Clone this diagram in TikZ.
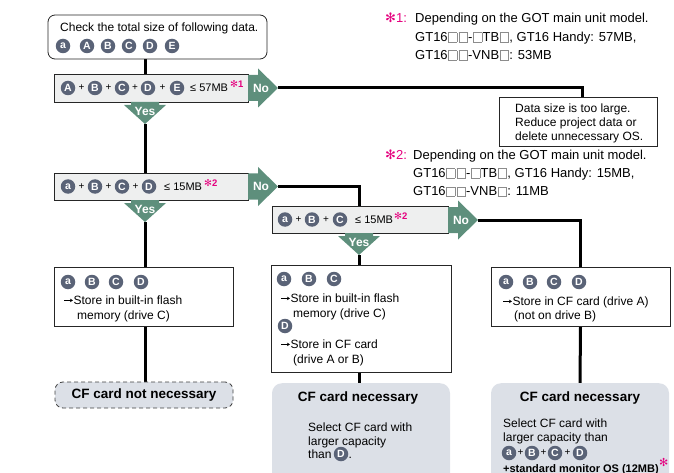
\documentclass[tikz,border=0pt]{standalone}
\usepackage{fontspec}
\usetikzlibrary{arrows.meta}
\setmainfont{Liberation Sans}
\newfontfamily\djv{DejaVu Sans}
\definecolor{grn}{HTML}{5E8F7C}
\definecolor{circc}{HTML}{5A6377}
\definecolor{decfill}{HTML}{EEEFEF}
\definecolor{gfill}{HTML}{DCE0E7}
\definecolor{pinkc}{HTML}{E5007E}
\newcommand\fsz[1]{\fontsize{#1}{#1}\selectfont}
\newcommand\sq{\hspace{0.6pt}{\color{black!45}\setlength\fboxrule{0.5pt}\setlength\fboxsep{0pt}\fbox{\rule{0pt}{9pt}\hspace{8pt}}}\hspace{0.6pt}}
\newcommand\arr{\tikz[baseline=0pt]\draw[line width=0.5pt,-{Stealth[length=3pt,width=3.6pt]}] (0pt,3.6pt) -- (8.5pt,3.6pt);\hspace{0.3pt}}
\newcommand\pstar{{\djv ✻}}
\pgfdeclarelayer{bg}
\pgfsetlayers{bg,main}
\tikzset{
 box/.style={draw=black!85,line width=0.8pt,fill=white,inner sep=0pt},
 dec/.style={draw=black!85,line width=0.9pt,fill=decfill,inner sep=0pt},
 wire/.style={line width=3pt},
 cb/.style={circle,fill=circc,text=white,inner sep=0pt,minimum size=14.5pt,font=\bfseries\fsz{10.5}},
 tx/.style={anchor=base west,inner sep=0pt,font=\fsz{12}},
 nt/.style={anchor=base west,inner sep=0pt,font=\fsz{13}},
 pl/.style={inner sep=0pt,font=\fsz{10}},
 le/.style={anchor=base west,inner sep=0pt,font=\fsz{11}},
 supm/.style={anchor=base west,inner sep=0pt,text=pinkc,font=\bfseries\fsz{9.5}},
 yn/.style={inner sep=0pt,text=white,font=\bfseries\fsz{12}},
 ttl/.style={inner sep=0pt,font=\bfseries\fsz{13.5}},
}
\newcommand\noarr[3]{%
 \fill[grn] (#1,#2-13) -- (#1+10,#2-13) -- (#1+10,#2-19.5) -- (#1+30,#2) -- (#1+10,#2+19.5) -- (#1+10,#2+13) -- (#1,#2+13) -- cycle;
 \node[yn] (#3) at (#1+13,#2) {No};
 \coordinate (#3t) at (#1+30,#2);}
\newcommand\yesarr[3]{%
 \fill[grn] (#1-14,#2) -- (#1+14,#2) -- (#1+14,#2+3) -- (#1+21,#2+3) -- (#1,#2+22) -- (#1-21,#2+3) -- (#1-14,#2+3) -- cycle;
 \node[yn] (#3) at (#1,#2+9.5) {Yes};
 \coordinate (#3t) at (#1,#2+22);}
\begin{document}
\begin{tikzpicture}[x=1pt,y=-1pt]
\useasboundingbox (0,0) rectangle (674,473);

% ---------- boxes
\node[box,rounded corners=7pt,minimum width=219pt,minimum height=44pt] (start) at (157.5,37) {};
\node[dec,minimum width=194pt,minimum height=28pt] (dec1) at (151,88) {};
\node[box,minimum width=158pt,minimum height=49pt] (nbox) at (578,121.5) {};
\node[dec,minimum width=194pt,minimum height=27pt] (dec2) at (151,186.5) {};
\node[dec,minimum width=176pt,minimum height=27pt] (dec3) at (360,219.5) {};
\node[box,minimum width=179pt,minimum height=59pt] (res1) at (143.5,296.5) {};
\node[box,minimum width=180pt,minimum height=107pt] (res2) at (361,318.5) {};
\node[box,minimum width=179pt,minimum height=59pt] (res3) at (580.5,296.5) {};
\node[draw=black!75,dash pattern=on 4pt off 3pt,line width=0.8pt,fill=gfill,rounded corners=8pt,minimum width=178pt,minimum height=26pt,inner sep=0pt,font=\bfseries\fsz{13.5}] (nn) at (144,395) {CF card not necessary};
\node[fill=gfill,rounded corners=10pt,minimum width=178pt,minimum height=110pt,anchor=north,inner sep=0pt] (g2) at (361,383) {};
\node[fill=gfill,rounded corners=10pt,minimum width=178pt,minimum height=110pt,anchor=north,inner sep=0pt] (g3) at (580,383) {};

% ---------- arrows
\noarr{248}{88}{no1}
\noarr{248}{186.5}{no2}
\noarr{448}{220}{no3}
\yesarr{145}{102}{y1}
\yesarr{145}{200}{y2}
\yesarr{359}{233}{y3}
\coordinate (c1) at (582,88);

% ---------- wires
\begin{pgfonlayer}{bg}
\draw[wire] (start.south -| y1t) -- (dec1.north -| y1t);
\draw[wire] (no1t) -- (c1) -- (c1 |- nbox.north);
\draw[wire] (y1t) -- (dec2.north -| y1t);
\draw[wire] (no2t) -| (dec3.north -| y3t);
\draw[wire] (y2t) -- (res1.north -| y2t);
\draw[wire] (res1.south -| y2t) -- (nn.north -| y2t);
\draw[wire] (no3t) -| (res3.north);
\draw[wire] (y3t) -- (res2.north -| y3t);
\draw[wire] (res2.south -| y3t) -- (g2.north -| y3t);
\draw[wire] (res3.south) -- (g3.north);
\end{pgfonlayer}

% ---------- start box text
\node[tx] (t0) at (60,32) {Check the total size of following data.};
\foreach \x/\l/\n in {63/a/s0,87/A/s1,108/B/s2,129/C/s3,150/D/s4,172/E/s5}
  \node[cb] (\n) at (\x,46) {\l};

% ---------- notes
\node[nt,text=pinkc] (n1a) at (385,23) {\pstar1:};
\node[nt] (n1b) at (415,23) {Depending on the GOT main unit model.};
\node[nt] (n1c) at (415,42) {GT16\sq\sq-\sq TB\sq, GT16 Handy: 57MB,};
\node[nt] (n1d) at (415,60) {GT16\sq\sq-VNB\sq: 53MB};
\node[nt,text=pinkc] (n2a) at (385,160) {\pstar2:};
\node[nt] (n2b) at (413,160) {Depending on the GOT main unit model.};
\node[nt] (n2c) at (413,178) {GT16\sq\sq-\sq TB\sq, GT16 Handy: 15MB,};
\node[nt] (n2d) at (413,196) {GT16\sq\sq-VNB\sq: 11MB};
\node[tx] (nb1) at (515,113) {Data size is too large.};
\node[tx] (nb2) at (515,127) {Reduce project data or};
\node[tx] (nb3) at (515,141) {delete unnecessary OS.};

% ---------- decision 1
\foreach \x/\l/\n in {68/A/d1a,95/B/d1b,122/C/d1c,148/D/d1d,177/E/d1e}
  \node[cb] (\n) at (\x,88) {\l};
\foreach \x/\n in {81.5/p11,108.5/p12,135/p13,162.5/p14}
  \node[pl] (\n) at (\x,88) {+};
\node[le] (d1t) at (190,92) {≤ 57MB};
\node[supm] (d1s) at (230,88) {\pstar1};

% ---------- decision 2
\foreach \x/\l/\n in {68/a/d2a,95/B/d2b,122/C/d2c,149/D/d2d}
  \node[cb] (\n) at (\x,186.5) {\l};
\foreach \x/\n in {81.5/p21,108.5/p22,135.5/p23}
  \node[pl] (\n) at (\x,186.5) {+};
\node[le] (d2t) at (164,190.5) {≤ 15MB};
\node[supm] (d2s) at (204,186.5) {\pstar2};

% ---------- decision 3
\foreach \x/\l/\n in {285/a/d3a,312/B/d3b,340/C/d3c}
  \node[cb] (\n) at (\x,219.5) {\l};
\foreach \x/\n in {298.5/p31,326/p32}
  \node[pl] (\n) at (\x,219.5) {+};
\node[le] (d3t) at (355,223.5) {≤ 15MB};
\node[supm] (d3s) at (394,219.5) {\pstar2};

% ---------- result 1
\foreach \x/\l/\n in {68/a/r1a,92/B/r1b,116/C/r1c,141/D/r1d}
  \node[cb] (\n) at (\x,282) {\l};
\node[tx] (r1t1) at (64,304) {\arr Store in built-in flash};
\node[tx] (r1t2) at (77,319) {memory (drive C)};

% ---------- result 2
\foreach \x/\l/\n in {284/a/r2a,309/B/r2b,334/C/r2c}
  \node[cb] (\n) at (\x,279) {\l};
\node[cb] (r2d) at (285,326) {D};
\node[tx] (r2t1) at (281,302) {\arr Store in built-in flash};
\node[tx] (r2t2) at (293,317) {memory (drive C)};
\node[tx] (r2t3) at (281,348) {\arr Store in CF card};
\node[tx] (r2t4) at (293,363) {(drive A or B)};

% ---------- result 3
\foreach \x/\l/\n in {506/a/r3a,530/B/r3b,554/C/r3c,579/D/r3d}
  \node[cb] (\n) at (\x,282) {\l};
\node[tx] (r3t1) at (503,305) {\arr Store in CF card (drive A)};
\node[tx] (r3t2) at (514,319) {(not on drive B)};

% ---------- gray box 2
\node[ttl] (g2t) at (358,398) {CF card necessary};
\node[tx] (g2a) at (308,431) {Select CF card with};
\node[tx] (g2b) at (308,445) {larger capacity};
\node[tx] (g2c) at (308,458) {than};
\node[cb] (g2d) at (341,454) {D};
\node[tx] (g2e) at (348.5,458) {.};

% ---------- gray box 3
\node[ttl] (g3t) at (580,398) {CF card necessary};
\node[tx] (g3a) at (503,427) {Select CF card with};
\node[tx] (g3b) at (503,441) {larger capacity than};
\foreach \x/\l/\n in {509/a/g3c,532/B/g3d,555/C/g3e,580/D/g3f}
  \node[cb] (\n) at (\x,453) {\l};
\foreach \x/\n in {520.5/p41,543.5/p42,567.5/p43}
  \node[pl] (\n) at (\x,453) {+};
\node[anchor=base west,inner sep=0pt,font=\bfseries\fsz{11}] (g3g) at (503,472) {+standard monitor OS (12MB)};
\node[supm,font=\bfseries\fsz{11}] (g3s) at (659,466) {\pstar};
\end{tikzpicture}
\end{document}
